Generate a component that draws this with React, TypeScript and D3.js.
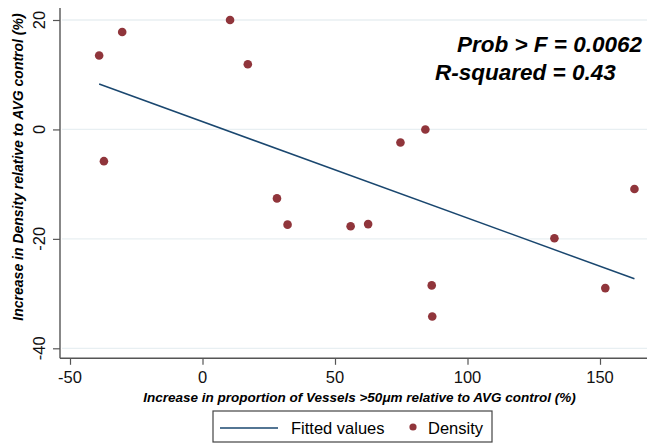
import React, { useRef, useEffect } from "react";
import * as d3 from "d3";

// scatter points (Density)
const vesselIncrease = [-39.0, -30.3, -37.2, 10.4, 17.1, 28.1, 32.1, 55.9, 62.5, 74.7, 84.1, 86.5, 86.7, 132.8, 152.0, 163.0];
const densityIncrease = [13.5, 17.8, -5.8, 20.0, 11.9, -12.6, -17.4, -17.7, -17.3, -2.4, 0.0, -28.5, -34.2, -19.9, -29.0, -10.9];

// fitted values line (end points)
const fittedX = [-39.0, 163.0];
const fittedY = [8.3, -27.3];

const xTicks = [-50, 0, 50, 100, 150];
const yTicks = [-40, -20, 0, 20];

const statLines = ["Prob > F = 0.0062", "R-squared = 0.43"];
const legendLabels = ["Fitted values", "Density"];

const W = 647;
const H = 443;
const FONT = "'Liberation Sans', Arial, Helvetica, sans-serif";
const LINE_COLOR = "#1a476f";
const DOT_COLOR = "#90353b";

const App = () => {
	const svgRef = useRef(null);

	useEffect(() => {
		const svg = d3.select(svgRef.current);
		svg.selectChildren().remove();

		// plot region
		const left = 60, right = 647, top = 8, bottom = 358.3;

		const x = d3.scaleLinear().domain([-50, 150]).range([70, 600]);
		const y = d3.scaleLinear().domain([-40, 20]).range([348.3, 20]);

		// gridlines
		svg.append("g")
			.selectAll("line")
			.data(yTicks)
			.join("line")
			.attr("x1", left + 2)
			.attr("x2", right)
			.attr("y1", d => y(d))
			.attr("y2", d => y(d))
			.attr("stroke", "#e8eff2")
			.attr("stroke-width", 1.3);

		// axes
		const yAxis = d3.axisLeft(y).tickValues(yTicks).tickSize(7).tickFormat(d3.format("d"));
		const gy = svg.append("g").attr("transform", `translate(${left}, 0)`).call(yAxis);
		gy.select(".domain").remove();
		gy.selectAll(".tick line").attr("stroke", "#555").attr("stroke-width", 1.2);
		gy.selectAll(".tick text").remove();

		const xAxis = d3.axisBottom(x).tickValues(xTicks).tickSize(6.5).tickFormat(d3.format("d"));
		const gx = svg.append("g").attr("transform", `translate(0, ${bottom})`).call(xAxis);
		gx.select(".domain").remove();
		gx.selectAll(".tick line").attr("stroke", "#555").attr("stroke-width", 1.2);
		gx.selectAll(".tick text").remove();

		svg.append("line")
			.attr("x1", left).attr("x2", left)
			.attr("y1", top).attr("y2", bottom)
			.attr("stroke", "#555").attr("stroke-width", 1.4);
		svg.append("line")
			.attr("x1", left).attr("x2", right)
			.attr("y1", bottom).attr("y2", bottom)
			.attr("stroke", "#555").attr("stroke-width", 1.4);

		// tick labels
		svg.append("g")
			.selectAll("text")
			.data(xTicks)
			.join("text")
			.attr("x", d => x(d))
			.attr("y", 383)
			.attr("text-anchor", "middle")
			.style("font-family", FONT)
			.style("font-size", "16.5px")
			.attr("fill", "#111")
			.text(d => d);
		svg.append("g")
			.selectAll("text")
			.data(yTicks)
			.join("text")
			.attr("transform", d => `translate(45, ${y(d)}) rotate(-90)`)
			.attr("text-anchor", "middle")
			.style("font-family", FONT)
			.style("font-size", "16.5px")
			.attr("fill", "#111")
			.text(d => d);

		// axis titles
		svg.append("text")
			.attr("x", 359.5)
			.attr("y", 401.5)
			.attr("text-anchor", "middle")
			.style("font-family", FONT)
			.style("font-size", "13.5px")
			.style("font-weight", "bold")
			.style("font-style", "italic")
			.text("Increase in proportion of Vessels >50\u03bcm relative to AVG control (%)");
		svg.append("text")
			.attr("transform", `translate(22.5, 167) rotate(-90)`)
			.attr("text-anchor", "middle")
			.style("font-family", FONT)
			.style("font-size", "14px")
			.style("font-weight", "bold")
			.style("font-style", "italic")
			.text("Increase in Density relative to AVG control (%)");

		// fitted line
		const fitted = fittedX.map((v, i) => [v, fittedY[i]]);
		svg.append("path")
			.datum(fitted)
			.attr("fill", "none")
			.attr("stroke", LINE_COLOR)
			.attr("stroke-width", 1.5)
			.attr("d", d3.line().x(d => x(d[0])).y(d => y(d[1])));

		// points
		svg.append("g")
			.selectAll("circle")
			.data(vesselIncrease.map((v, i) => [v, densityIncrease[i]]))
			.join("circle")
			.attr("cx", d => x(d[0]))
			.attr("cy", d => y(d[1]))
			.attr("r", 4.3)
			.attr("fill", DOT_COLOR);

		// stats annotation
		svg.append("text")
			.attr("x", 642)
			.attr("y", 52)
			.attr("text-anchor", "end")
			.style("font-family", FONT)
			.style("font-size", "22.5px")
			.style("font-weight", "bold")
			.style("font-style", "italic")
			.text(statLines[0]);
		svg.append("text")
			.attr("x", 435)
			.attr("y", 80)
			.attr("text-anchor", "start")
			.style("font-family", FONT)
			.style("font-size", "22.5px")
			.style("font-weight", "bold")
			.style("font-style", "italic")
			.text(statLines[1]);

		// legend
		const lg = svg.append("g");
		lg.append("rect")
			.attr("x", 213).attr("y", 411)
			.attr("width", 279).attr("height", 31)
			.attr("fill", "white")
			.attr("stroke", "#444").attr("stroke-width", 1.2);
		lg.append("line")
			.attr("x1", 220).attr("x2", 278)
			.attr("y1", 428).attr("y2", 428)
			.attr("stroke", LINE_COLOR).attr("stroke-width", 1.5);
		lg.append("text")
			.attr("x", 291).attr("y", 434)
			.style("font-family", FONT)
			.style("font-size", "16.5px")
			.text(legendLabels[0]);
		lg.append("circle")
			.attr("cx", 413).attr("cy", 427)
			.attr("r", 3.6)
			.attr("fill", DOT_COLOR);
		lg.append("text")
			.attr("x", 428).attr("y", 434)
			.style("font-family", FONT)
			.style("font-size", "16.5px")
			.text(legendLabels[1]);
	});

	return (
		<div style={{ position: "absolute", left: 0, top: 0 }}>
			<svg ref={svgRef} width={W} height={H} style={{ display: "block", background: "white" }}></svg>
		</div>
	);
};

export default App;
